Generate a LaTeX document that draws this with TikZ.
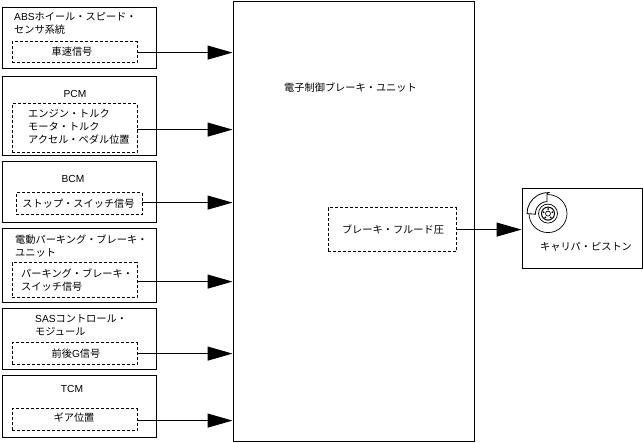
\documentclass[tikz,border=0pt]{standalone}
\usepackage{fontspec}
\setmainfont{Liberation Sans}
\newfontfamily\jp{Noto Sans CJK JP}
\usetikzlibrary{arrows.meta,calc}
\definecolor{ink}{HTML}{000000}
\tikzset{
  unitbox/.style={draw=ink,line width=1pt,inner sep=0pt},
  signalbox/.style={draw=ink,line width=.6pt,dash pattern=on 3pt off 2pt,inner sep=0pt},
  lbl/.style={inner sep=0pt,align=left,font=\fontsize{10.2}{13}\selectfont},
  signal/.style={draw=ink,line width=1pt,-{Triangle[length=25pt,width=14pt]}}
}
\begin{document}
\begin{tikzpicture}[x=1pt,y=1pt]
        \useasboundingbox (0,.6) rectangle (643,-442.4);
        % left column
        \node[unitbox,minimum width=154pt,minimum height=61pt] (abs) at (79,-37.5){};
        \node[unitbox,minimum width=154pt,minimum height=79pt] (pcm) at (79,-115.5){};
        \node[unitbox,minimum width=154pt,minimum height=61pt] (bcm) at (79,-191.5){};
        \node[unitbox,minimum width=154pt,minimum height=74pt] (epb) at (79,-265){};
        \node[unitbox,minimum width=154pt,minimum height=61pt] (sas) at (79,-338.5){};
        \node[unitbox,minimum width=154pt,minimum height=62pt] (tcm) at (79,-406){};
        \node[signalbox,minimum width=125pt,minimum height=21pt] (speed) at (74.5,-51.5){};
        \node[signalbox,minimum width=125pt,minimum height=49pt] (torque) at (74.5,-127.5){};
        \node[signalbox,minimum width=126pt,minimum height=22pt] (stop) at (79,-203){};
        \node[signalbox,minimum width=125pt,minimum height=35pt] (park) at (74.5,-279.5){};
        \node[signalbox,minimum width=125pt,minimum height=22pt] (accel) at (74.5,-353){};
        \node[signalbox,minimum width=125pt,minimum height=22pt] (gear) at (74.5,-419){};
        \node[lbl,anchor=west] (abstext) at (14,-22.5){ABS{\jp ホイール・スピード・}\\{\jp センサ系統}};
        \node[lbl] (speedtext) at (72,-51.5){\jp 車速信号};
        \node[lbl] (pcmtext) at (75,-93.5){PCM};
        \node[lbl,anchor=west] (torquetext) at (28,-126.5){\jp エンジン・トルク\\\jp モータ・トルク\\\jp アクセル・ペダル位置};
        \node[lbl] (bcmtext) at (73,-178){BCM};
        \node[lbl] (stoptext) at (78.5,-203){\jp ストップ・スイッチ信号};
        \node[lbl,anchor=west] (epbtext) at (15,-245.5){\jp 電動パーキング・ブレーキ・\\\jp ユニット};
        \node[lbl,anchor=west] (parktext) at (21,-279.5){\jp パーキング・ブレーキ・\\\jp スイッチ信号};
        \node[lbl,anchor=west] (sastext) at (35,-324.5){SAS{\jp コントロール・}\\{\jp モジュール}};
        \node[lbl] (acceltext) at (76,-353){\jp 前後{\rmfamily G}信号};
        \node[lbl] (tcmtext) at (72,-388){TCM};
        \node[lbl] (geartext) at (74,-417){\jp ギア位置};
        % centre block
        \node[unitbox,minimum width=241pt,minimum height=440pt] (ebcm) at (353.5,-221){};
        \node[lbl] (ebcmtext) at (350.5,-87){\jp 電子制御ブレーキ・ユニット};
        \node[signalbox,minimum width=128pt,minimum height=44pt] (fluid) at (392,-229){};
        \node[lbl] (fluidtext) at (393,-229){\jp ブレーキ・フルード圧};
        % caliper
        \node[unitbox,minimum width=120pt,minimum height=80pt] (caliper) at (582,-228){};
        \node[lbl] (calipertext) at (586,-246){\jp キャリパ・ピストン};
        \foreach \name/\y in {speed/-52,torque/-129,stop/-202,park/-281,accel/-353,gear/-420}{
          \coordinate (from) at (\name.east|-0,\y);
          \draw[signal] (from)--(from-|ebcm.west);
        }
        \draw[signal] (fluid.east)--(caliper.west|-fluid.east);
        % brake disc
        \draw[ink,line width=.7pt] (548,-213) circle (19);
        \draw[ink,line width=.7pt] (548,-213) circle (9.5);
        \draw[ink,line width=1pt] (548,-213) circle (6.5);
        \draw[ink,line width=.7pt] (548,-213) circle (2.5);
        \foreach \a in {90,162,234,306,18}{\fill[ink] ($(548,-213)+(\a:4.6)$) circle (1);}
        \draw[ink,line width=.8pt,fill=white] (547,-193)--(547,-201) arc (92:183:12) --(527,-213) arc (180:88:21) --cycle;
      \end{tikzpicture}
\end{document}
